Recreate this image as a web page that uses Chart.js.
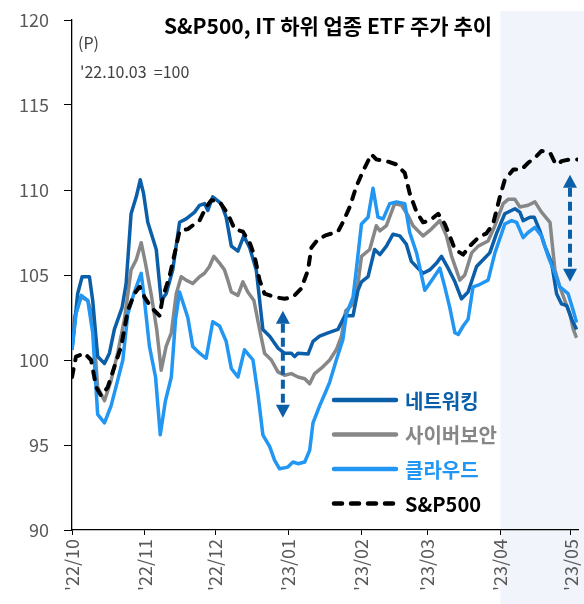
<!DOCTYPE html>
<html>
<head>
<meta charset="utf-8">
<script src="https://cdn.jsdelivr.net/npm/chart.js@4.4.1/dist/chart.umd.min.js"></script>
<style>
  html, body { margin: 0; padding: 0; background: #fff; }
  #wrap { width: 584px; height: 604px; }
</style>
</head>
<body>
<div id="wrap"><canvas id="etfChart" width="584" height="604"></canvas></div>
<script>
// x = days since 2022-10-01
const monthTicks = [0, 31, 61, 92, 123, 151, 182, 212];
const monthLabels = ["'22/10", "'22/11", "'22/12", "'23/01", "'23/02", "'23/03", "'23/04", "'23/05"];

const networkDays = [0, 2.4, 4.3, 7.4, 8.8, 10.9, 13.8, 15.9, 18, 21.3, 23, 25.1, 27.3, 29, 30.4, 32.2, 35.8, 37.9, 40, 42.8,
  45.7, 48.5, 52.1, 54.2, 56.3, 57.7, 59.8, 63.4, 65.5, 67.7, 70.5, 73, 75.5, 78.3, 81.1, 84, 87.5, 90.3, 93.2, 94.6,
  96, 100.3, 102.4, 105.2, 108.8, 113, 115.9, 119.4, 121.5, 123, 125.8, 128.6, 130.8, 133.6, 136.4, 139.3, 142.1, 144.2, 147, 149.2,
  152, 154.9, 157, 159.8, 162.7, 165.5, 168.3, 171.9, 175.4, 177.5, 180.4, 183.9, 188.2, 190.3, 191.7, 194.6, 196.4, 198.8, 200.9, 203.8,
  205.9, 208, 210.2, 212.3, 214.4];
const networkValues = [100.6, 103.9, 104.9, 104.9, 103.5, 100.2, 99.8, 100.4, 101.8, 103.1, 104.5, 108.6, 109.6, 110.6, 109.8, 108.1, 106.5, 103.5, 103.9, 105.3,
  108.1, 108.3, 108.7, 109.1, 109.2, 108.8, 109.6, 109.2, 108.4, 106.7, 106.4, 107.3, 106.6, 105.3, 101.8, 101.4, 100.7, 100.4, 100.4, 100.2,
  100.4, 100.35, 101.1, 101.4, 101.6, 101.8, 102.6, 102.6, 104.1, 104.6, 104.9, 106.5, 106.2, 106.7, 107.4, 107.3, 106.8, 105.8, 105.4, 105.1,
  105.3, 105.7, 106.1, 105.4, 104.6, 103.6, 104.0, 105.5, 106.0, 106.3, 107.45, 108.6, 108.9, 108.7, 108.2, 108.4, 108.4, 107.6, 106.7, 105.7,
  103.9, 103.3, 103.2, 102.4, 101.8];

const cyberDays = [0, 1, 3.9, 6.7, 8.8, 10.9, 13.8, 16.6, 19.4, 22.3, 25.1, 27.3, 29.4, 31.2, 33.6, 36, 37.9, 40, 42.2, 44.3,
  46.4, 48.5, 51.3, 54.2, 56.3, 58.4, 60.3, 62.7, 64.8, 66.2, 67.7, 70.5, 72.6, 74.7, 77.3, 79.7, 81.8, 84.7, 87.5, 90.3,
  93.2, 96, 98.9, 101, 103.1, 106.6, 109.5, 112.3, 114.5, 116.3, 119.4, 121.5, 123, 126.5, 129.3, 130.8, 133.6, 137.1, 140, 142.8,
  144.9, 149.2, 152.7, 156.3, 159.1, 161.3, 164.8, 166.9, 169.8, 172.6, 176.8, 179.7, 183.2, 185.3, 188.2, 190.3, 193.8, 196.7, 199.5, 203.1,
  205.2, 207.3, 209.4, 211.6, 213, 214.4];
const cyberValues = [101.2, 102.5, 103.7, 103.5, 102.5, 98.4, 97.6, 98.8, 100.4, 102.4, 105.3, 105.9, 106.9, 105.7, 103.9, 101.8, 99.4, 100.8, 101.6, 103.9,
  104.9, 104.7, 104.5, 104.9, 105.1, 105.5, 106.1, 105.7, 105.3, 104.7, 104.0, 103.8, 104.6, 104.0, 103.5, 101.8, 100.4, 100.0, 99.3, 99.1,
  99.2, 99.0, 98.9, 98.6, 99.2, 99.6, 100.0, 100.6, 101.4, 102.9, 103.3, 104.5, 106.1, 106.5, 107.9, 107.6, 107.9, 109.2, 109.1, 108.5,
  107.9, 107.3, 107.7, 108.2, 107.3, 106.1, 104.7, 105.0, 106.3, 106.7, 107.0, 107.9, 109.2, 109.45, 109.45, 109.0, 109.1, 109.3, 108.7, 108.1,
  105.3, 104.3, 103.5, 102.7, 101.8, 101.3];

const cloudDays = [0, 1.7, 3.9, 6.7, 8.8, 10.9, 13.8, 16.6, 19.4, 21.6, 23.7, 26.5, 29.4, 30.8, 32.9, 35.5, 37.5, 39.7, 42.2, 44,
  45.7, 49.2, 51.3, 54.2, 57, 59.8, 62.7, 65.5, 67.7, 70.5, 73.3, 76.9, 79, 81.1, 84, 86.1, 88.2, 91.7, 93.9, 96,
  98.9, 101, 102.4, 105.2, 107.4, 109.5, 112.3, 115.1, 116.6, 119.4, 120.8, 123, 125.8, 127.9, 130, 132.2, 135, 137.9, 141.4, 143.5,
  146.4, 149.9, 153.4, 156.3, 158.4, 160.5, 162.7, 164.1, 166.2, 168.3, 170.4, 172.6, 176.8, 179.7, 183.9, 186.8, 188.9, 191.7, 193.8, 196.7,
  199.5, 202.3, 205.2, 207.3, 210.8, 213, 214.4];
const cloudValues = [100.6, 102.7, 103.8, 103.5, 101.6, 96.8, 96.3, 97.3, 98.8, 100.0, 102.7, 104.0, 105.1, 103.5, 100.8, 99.0, 95.6, 97.6, 99.0, 102.4,
  104.0, 102.5, 100.8, 100.4, 100.1, 102.25, 102.0, 101.1, 99.5, 99.0, 100.6, 100.0, 98.0, 95.6, 94.9, 94.1, 93.6, 93.7, 94.0, 93.9,
  94.0, 94.7, 96.3, 97.3, 98.0, 98.7, 100.0, 101.2, 102.7, 103.7, 105.3, 108.0, 108.4, 110.1, 108.4, 108.3, 109.2, 109.3, 109.2, 107.5,
  106.3, 104.1, 104.8, 105.4, 104.3, 103.1, 101.6, 101.5, 102.0, 102.4, 104.3, 104.4, 104.7, 106.3, 108.0, 108.2, 108.1, 107.2, 107.5, 107.8,
  107.3, 106.1, 105.1, 104.3, 103.9, 102.9, 102.2];

const spxDays = [0, 1.7, 5.3, 8.1, 10.3, 12.4, 15.2, 18, 20.9, 23.7, 26.5, 28.7, 30.8, 33.6, 37.2, 38.6, 41.4, 44, 45.7, 49.2,
  52.1, 54.2, 57, 59.2, 62.7, 66.2, 69.1, 72.6, 75.5, 77.6, 79.7, 81.8, 86.1, 90.3, 93.9, 97.4, 100.3, 101.7, 104.5, 108.1,
  113, 115.1, 118, 120.8, 123.6, 127.2, 129.3, 133.6, 137.9, 141.4, 143.5, 146.4, 149.2, 152, 155.6, 158.4, 160.5, 162.7, 166.2, 169,
  172.6, 176.1, 178.9, 181.8, 183.9, 187.5, 191, 193.8, 196.7, 199.5, 203.1, 205.2, 206.6, 208, 211.6, 215];
const spxValues = [99.0, 100.2, 100.4, 100.0, 98.4, 97.9, 98.4, 99.6, 100.8, 102.9, 103.9, 104.3, 103.7, 103.1, 102.6, 103.7, 104.9, 106.5, 107.6, 107.7,
  108.0, 108.2, 109.0, 109.4, 109.3, 108.6, 107.7, 107.55, 106.9, 106.1, 104.7, 103.9, 103.7, 103.6, 103.7, 104.2, 105.3, 106.6, 107.1, 107.35,
  107.55, 108.1, 109.0, 110.2, 111.1, 112.1, 111.8, 111.7, 111.5, 111.0, 109.8, 108.7, 108.1, 108.2, 108.6, 108.0, 107.3, 106.5, 106.2, 106.7,
  107.2, 107.45, 108.0, 109.6, 110.6, 111.2, 111.2, 111.6, 111.9, 112.3, 112.2, 111.6, 111.5, 111.7, 111.8, 111.8];

// double arrows: [day, top, bottom]
const gapArrows = [[89.6, 102.9, 96.6], [211.6, 110.9, 104.6]];
const shadeFrom = 182;

const colors = { network: '#0B5EA8', cyber: '#878787', cloud: '#2196F3', spx: '#000000' };
const KR = "'Noto Sans CJK KR', 'Noto Sans', sans-serif";

function pts(days, vals) {
  return days.map((d, i) => ({ x: d, y: vals[i] }));
}

const shadePlugin = {
  id: 'shade',
  beforeDraw(chart) {
    const ctx = chart.ctx;
    const x0 = chart.scales.x.getPixelForValue(shadeFrom);
    ctx.save();
    ctx.fillStyle = '#F1F5FB';
    ctx.fillRect(x0, 11, chart.width - x0, chart.height - 11);
    ctx.restore();
  }
};

function drawArrow(ctx, x, yTop, yBot, color) {
  const head = 13, half = 7;
  ctx.save();
  ctx.strokeStyle = color;
  ctx.fillStyle = color;
  ctx.lineWidth = 4;
  ctx.setLineDash([9, 5]);
  ctx.beginPath();
  ctx.moveTo(x, yTop + head);
  ctx.lineTo(x, yBot - head);
  ctx.stroke();
  ctx.setLineDash([]);
  ctx.beginPath();
  ctx.moveTo(x, yTop);
  ctx.lineTo(x - half, yTop + head);
  ctx.lineTo(x + half, yTop + head);
  ctx.closePath();
  ctx.fill();
  ctx.beginPath();
  ctx.moveTo(x, yBot);
  ctx.lineTo(x - half, yBot - head);
  ctx.lineTo(x + half, yBot - head);
  ctx.closePath();
  ctx.fill();
  ctx.restore();
}

const overlayPlugin = {
  id: 'overlay',
  afterDraw(chart) {
    const ctx = chart.ctx;
    const xs = chart.scales.x, ys = chart.scales.y;

    gapArrows.forEach(a => {
      drawArrow(ctx, xs.getPixelForValue(a[0]), ys.getPixelForValue(a[1]), ys.getPixelForValue(a[2]), colors.network);
    });

    ctx.save();
    // title + notes
    ctx.fillStyle = '#000';
    ctx.font = 'bold 21px ' + KR;
    ctx.textAlign = 'center';
    ctx.textBaseline = 'alphabetic';
    ctx.fillText('S&P500, IT 하위 업종 ETF 주가 추이', 328, 34);
    ctx.fillStyle = '#404040';
    ctx.font = '16px ' + KR;
    ctx.textAlign = 'left';
    ctx.fillText('(P)', 78, 49);
    ctx.fillText("'22.10.03  =100", 80, 78);

    // legend
    const rows = chart.data.datasets.slice().sort((a, b) => a.legendRank - b.legendRank);
    rows.forEach((ds, i) => {
      const y = 400 + i * 34.5;
      ctx.strokeStyle = ds.borderColor;
      ctx.lineWidth = 4.5;
      ctx.lineCap = 'round';
      ctx.setLineDash(ds.borderDash || []);
      ctx.beginPath();
      ctx.moveTo(334, y);
      ctx.lineTo(396, y);
      ctx.stroke();
      ctx.setLineDash([]);
      ctx.fillStyle = ds.borderColor;
      ctx.font = 'bold 20px ' + KR;
      ctx.textBaseline = 'middle';
      ctx.fillText(ds.label, 405, y + 1);
    });
    ctx.restore();
  }
};

new Chart(document.getElementById('etfChart'), {
  type: 'line',
  data: {
    datasets: [
      { label: 'S&P500', legendRank: 3, data: pts(spxDays, spxValues), borderColor: colors.spx,
        borderWidth: 4, borderDash: [8, 9], borderCapStyle: 'round' },
      { label: '클라우드', legendRank: 2, data: pts(cloudDays, cloudValues), borderColor: colors.cloud, borderWidth: 3.5 },
      { label: '네트워킹', legendRank: 0, data: pts(networkDays, networkValues), borderColor: colors.network, borderWidth: 3.5 },
      { label: '사이버보안', legendRank: 1, data: pts(cyberDays, cyberValues), borderColor: colors.cyber, borderWidth: 3.5 }
    ]
  },
  options: {
    responsive: false,
    animation: false,
    layout: { padding: { top: 20, right: 6, left: 0, bottom: 0 } },
    elements: {
      point: { radius: 0 },
      line: { tension: 0, borderJoinStyle: 'round', fill: false }
    },
    plugins: {
      legend: { display: false },
      title: { display: false },
      tooltip: { enabled: false }
    },
    scales: {
      x: {
        type: 'linear',
        min: 0,
        max: 215,
        afterBuildTicks: (axis) => { axis.ticks = monthTicks.map(v => ({ value: v })); },
        afterFit: (axis) => { axis.height = 74; axis.paddingLeft = 0; axis.paddingRight = 0; },
        ticks: {
          autoSkip: false,
          minRotation: 90,
          maxRotation: 90,
          padding: 4,
          color: '#595959',
          font: { size: 18, family: KR },
          callback: (v) => monthLabels[monthTicks.indexOf(v)]
        },
        grid: { display: true, drawOnChartArea: false, drawTicks: true, tickLength: 5, color: '#000' },
        border: { display: true, color: '#000', width: 1.3 }
      },
      y: {
        min: 90,
        max: 120,
        afterFit: (axis) => { axis.width = 72; axis.paddingTop = 0; axis.paddingBottom = 0; },
        ticks: {
          stepSize: 5,
          padding: 15,
          color: '#595959',
          font: { size: 18, family: KR }
        },
        grid: { display: true, drawOnChartArea: false, drawTicks: true, tickLength: 8, color: '#000' },
        border: { display: true, color: '#000', width: 1.3 }
      }
    }
  },
  plugins: [shadePlugin, overlayPlugin]
});
</script>
</body>
</html>
